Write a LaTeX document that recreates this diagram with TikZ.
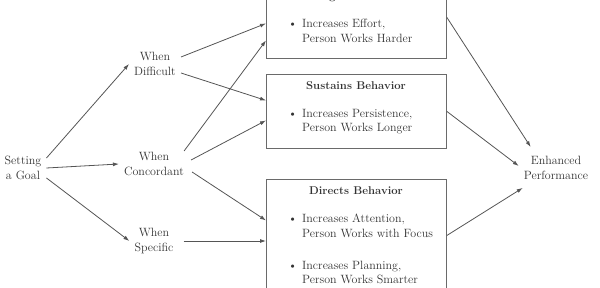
\documentclass[tikz,border=0pt]{standalone}
\usepackage{tikz}
\usetikzlibrary{arrows.meta,positioning,calc}
\definecolor{inkgray}{HTML}{333333}
\definecolor{linegray}{HTML}{555555}
\definecolor{boxgray}{HTML}{6A6A6A}
\tikzset{
  >={Latex[length=6pt,width=4pt]},
  % labels and boxes
  lbl/.style={align=center,inner sep=5pt,text=inkgray,
              font=\fontsize{12}{15}\selectfont},
  bx/.style={draw=boxgray,line width=0.9pt,minimum width=180pt,
             inner sep=0pt,anchor=north west},
  ttl/.style={anchor=base,inner sep=0pt,text=inkgray,
              font=\fontsize{11.3}{14}\selectfont\bfseries},
  itm/.style={anchor=west,align=left,inner sep=0pt,text=inkgray,
              font=\fontsize{12}{14.5}\selectfont},
  % arrows
  ar/.style={->,draw=linegray,line width=0.8pt},
}
\newcommand{\itembul}[2]{\makebox[14pt][l]{\textbullet}#1\\\hspace*{14pt}#2}

\begin{document}
\begin{tikzpicture}[x=1pt,y=-1pt]
\useasboundingbox (0,0) rectangle (600,288);
\clip (0,0) rectangle (600,288);
  \node[lbl] (goal) at (23,168) {Setting\\a Goal};
  \node[lbl] (diff) at (155,64) {When\\Difficult};
  \node[lbl] (conc) at (154,164) {When\\Concordant};
  \node[lbl] (spec) at (154,241) {When\\Specific};
  \node[lbl] (perf) at (556,168) {Enhanced\\Performance};
  % boxes
  \node[bx,minimum height=74pt] (ener) at (266,-16) {};
  \node[bx,minimum height=74pt] (sus) at (266,74) {};
  \node[bx,minimum height=120pt] (dir) at (266,179) {};
  \node[ttl] (enerT) at (356,0) {Energizes Behavior};
  \node[ttl] (susT) at (356,90) {Sustains Behavior};
  \node[ttl] (dirT) at (356,195) {Directs Behavior};
  \node[itm] (ener1) at (288,31) {\itembul{Increases Effort,}{Person Works Harder}};
  \node[itm] (sus1) at (288,121.5) {\itembul{Increases Persistence,}{Person Works Longer}};
  \node[itm] (dir1) at (288,226) {\itembul{Increases Attention,}{Person Works with Focus}};
  \node[itm] (dir2) at (288,272.5) {\itembul{Increases Planning,}{Person Works Smarter}};
  % goal -> conditions
  \draw[ar] ([yshift=10pt]goal.east) -- (diff.west);
  \draw[ar] (goal.east) -- (conc.west);
  \draw[ar] ([yshift=-10pt]goal.east) -- (spec.west);
  % conditions -> boxes
  \draw[ar] ([yshift=7pt]diff.east) -- ([yshift=-2pt]ener.west);
  \draw[ar] ([yshift=-9pt]diff.east) -- ([yshift=11pt]sus.west);
  \draw[ar] ([xshift=-5pt,yshift=13pt]conc.east) -- ([yshift=-19pt]ener.west);
  \draw[ar] ([xshift=2pt,yshift=4pt]conc.east) -- ([yshift=-9pt]sus.west);
  \draw[ar] ([xshift=3pt,yshift=-8pt]conc.east) -- ([yshift=19pt]dir.west);
  \draw[ar] ([xshift=5pt]spec.east) -- (spec.east -| dir.west);
  % boxes -> performance
  \draw[ar] ([yshift=4pt]ener.east) -- ([xshift=12pt,yshift=4pt]perf.north west);
  \draw[ar] (sus.east) -- ([yshift=2pt]perf.west);
  \draw[ar] ([yshift=4pt]dir.east) -- ([xshift=4pt,yshift=-3pt]perf.south west);
\end{tikzpicture}
\end{document}
